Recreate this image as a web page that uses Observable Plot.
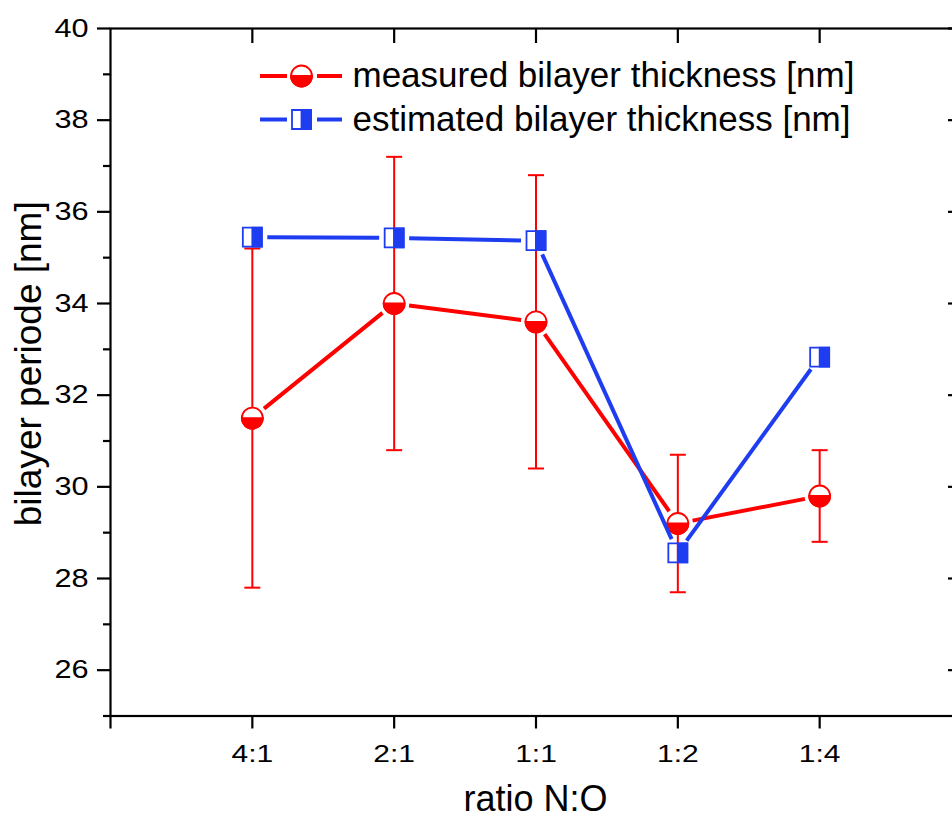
<!DOCTYPE html>
<html>
<head>
<meta charset="utf-8">
<script src="https://cdn.jsdelivr.net/npm/d3@7"></script>
<script src="https://cdn.jsdelivr.net/npm/@observablehq/plot@0.6"></script>
<style>
  html, body { margin: 0; padding: 0; background: #fff; overflow: hidden; }
  #chart svg { overflow: hidden; }
</style>
</head>
<body>
<div id="chart"></div>
<script>
// N:O ratio categories along the x axis
const ratios = ["4:1", "2:1", "1:1", "1:2", "1:4"];
// measured bilayer thickness (nm) and its error
const measured = [31.5, 34.0, 33.6, 29.2, 29.8];
const measuredErr = [3.7, 3.2, 3.2, 1.5, 1.0];
// estimated bilayer thickness (nm)
const estimated = [35.45, 35.43, 35.37, 28.56, 32.83];
// axis ticks
const yMajorTicks = [26, 28, 30, 32, 34, 36, 38, 40];
const yMinorTicks = [25, 27, 29, 31, 33, 35, 37, 39];
const xTicks = [0, 1, 2, 3, 4, 5, 6];
// texts
const seriesNames = ["measured bilayer thickness [nm]", "estimated bilayer thickness [nm]"];
const xTitle = "ratio N:O";
const yTitle = "bilayer periode [nm]";

const RED = "#ff0000";
const BLUE = "#1e3cf0";
const FONT = "'Liberation Sans', Arial, Helvetica, sans-serif";

const measuredRows = ratios.map((r, i) => ({
  pos: i + 1, value: measured[i], lo: measured[i] - measuredErr[i], hi: measured[i] + measuredErr[i]
}));
const estimatedRows = ratios.map((r, i) => ({pos: i + 1, value: estimated[i]}));
const toSegments = rows => d3.pairs(rows).map(([a, b]) => ({x1: a.pos, y1: a.value, x2: b.pos, y2: b.value}));

// custom marker shapes (r = sqrt(size / PI))
const rad = size => Math.sqrt(size / Math.PI);
const lowerHalfCircle = {draw(ctx, size) { const r = rad(size); ctx.moveTo(r, 0); ctx.arc(0, 0, r, 0, Math.PI); ctx.closePath(); }};
const squareOutline = {draw(ctx, size) { const r = rad(size); ctx.rect(-r, -r, 2 * r, 2 * r); }};
const rightHalfSquare = {draw(ctx, size) { const r = rad(size); ctx.rect(0, -r, r, 2 * r); }};
const capLine = {draw(ctx, size) { const r = rad(size); ctx.moveTo(-r, 0); ctx.lineTo(r, 0); }};

const AX = 2.2;
const plot = Plot.plot({
  width: 952,
  height: 819,
  marginLeft: 110,
  marginRight: -9,
  marginTop: 28,
  marginBottom: 103.5,
  style: {fontFamily: FONT, color: "#000", background: "#fff", overflow: "hidden"},
  x: {domain: [0, 6]},
  y: {domain: [25, 40]},
  marks: [
    Plot.frame({strokeWidth: AX}),
    Plot.axisY({anchor: "left", ticks: yMajorTicks, tickSize: 13, tickPadding: 9, fontSize: 26, strokeWidth: AX, label: null}),
    Plot.axisY({anchor: "left", ticks: yMinorTicks, tickSize: 7, fill: "none", strokeWidth: AX, label: null}),
    Plot.axisY({anchor: "right", ticks: yMajorTicks, tickSize: 14, dx: -14, fill: "none", strokeWidth: AX, label: null}),
    Plot.axisX({anchor: "bottom", ticks: xTicks, tickFormat: i => ratios[i - 1] ?? "", tickSize: 13, tickPadding: 16, fontSize: 24, strokeWidth: AX, label: null}),
    Plot.axisX({anchor: "top", ticks: xTicks.slice(1, 6), tickSize: 14, dy: 14, fill: "none", strokeWidth: AX, label: null}),

    // measured series: error bars, connecting line, half-filled circles
    Plot.ruleX(measuredRows, {x: "pos", y1: "lo", y2: "hi", stroke: RED, strokeWidth: 2}),
    Plot.dot(measuredRows, {x: "pos", y: "lo", symbol: capLine, r: 8, fill: "none", stroke: RED, strokeWidth: 2}),
    Plot.dot(measuredRows, {x: "pos", y: "hi", symbol: capLine, r: 8, fill: "none", stroke: RED, strokeWidth: 2}),
    Plot.arrow(toSegments(measuredRows), {x1: "x1", y1: "y1", x2: "x2", y2: "y2", stroke: RED, strokeWidth: 4,
      headLength: 0, insetStart: 15, insetEnd: 15, strokeLinecap: "butt"}),
    Plot.dot(measuredRows, {x: "pos", y: "value", r: 10.5, fill: "#fff", stroke: RED, strokeWidth: 1.8}),
    Plot.dot(measuredRows, {x: "pos", y: "value", r: 10.5, symbol: lowerHalfCircle, fill: RED, stroke: RED, strokeWidth: 1.8}),

    // estimated series: connecting line, half-filled squares
    Plot.arrow(toSegments(estimatedRows), {x1: "x1", y1: "y1", x2: "x2", y2: "y2", stroke: BLUE, strokeWidth: 4,
      headLength: 0, insetStart: 15, insetEnd: 15, strokeLinecap: "butt"}),
    Plot.dot(estimatedRows, {x: "pos", y: "value", r: 9.5, symbol: squareOutline, fill: "none", stroke: BLUE, strokeWidth: 1.8}),
    Plot.dot(estimatedRows, {x: "pos", y: "value", r: 9.5, symbol: rightHalfSquare, fill: BLUE, stroke: BLUE, strokeWidth: 1.8})
  ]
});

document.getElementById("chart").appendChild(plot);

const svg = d3.select(plot);

// the tick labels are set in a slightly wide face
function widen(selector, k) {
  svg.selectAll(selector).each(function() {
    const t = this.getAttribute("transform");
    if (t) this.setAttribute("transform", `${t} scale(${k},1)`);
  });
}
widen('g[aria-label="y-axis tick label"] text', 1.18);
widen('g[aria-label="x-axis tick label"] text', 1.25);

// axis titles and legend
const xs = plot.scale("x"), ys = plot.scale("y");
const xMid = (xs.range[0] + xs.range[1]) / 2;
const yMid = (ys.range[0] + ys.range[1]) / 2;

svg.append("text")
  .attr("x", xMid).attr("y", 811)
  .attr("text-anchor", "middle")
  .attr("font-family", FONT).attr("font-size", 36).attr("fill", "#000")
  .text(xTitle);

svg.append("text")
  .attr("transform", `translate(41,${yMid - 8}) rotate(-90)`)
  .attr("text-anchor", "middle")
  .attr("font-family", FONT).attr("font-size", 37).attr("fill", "#000")
  .text(yTitle);

const legend = svg.append("g").attr("transform", "translate(301.5,76)");
const rowGap = 43.5;
const legendItems = [
  {name: seriesNames[0], color: RED, shapes: [
    {type: d3.symbolCircle, r: 10.5, fill: "#fff"},
    {type: lowerHalfCircle, r: 10.5, fill: RED}
  ]},
  {name: seriesNames[1], color: BLUE, shapes: [
    {type: squareOutline, r: 9.5, fill: "#fff"},
    {type: rightHalfSquare, r: 9.5, fill: BLUE}
  ]}
];
legendItems.forEach((item, i) => {
  const g = legend.append("g").attr("transform", `translate(0,${i * rowGap})`);
  g.append("line").attr("x1", -41.5).attr("x2", -14.5).attr("stroke", item.color).attr("stroke-width", 4);
  g.append("line").attr("x1", 15.5).attr("x2", 40.5).attr("stroke", item.color).attr("stroke-width", 4);
  item.shapes.forEach(s => {
    g.append("path")
      .attr("d", d3.symbol(s.type, Math.PI * s.r * s.r)())
      .attr("fill", s.fill).attr("stroke", item.color).attr("stroke-width", 1.8);
  });
  g.append("text")
    .attr("x", 51).attr("y", 11)
    .attr("text-anchor", "start")
    .attr("font-family", FONT).attr("font-size", 35).attr("fill", "#000")
    .text(item.name);
});
</script>
</body>
</html>
